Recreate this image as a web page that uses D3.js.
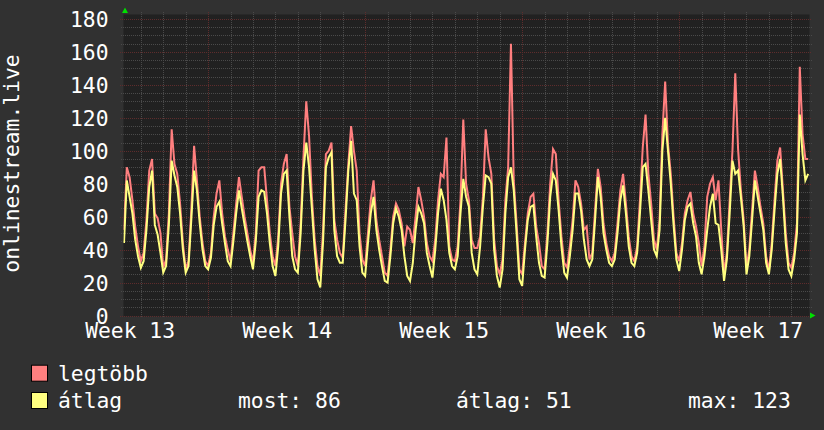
<!DOCTYPE html>
<html><head><meta charset="utf-8">
<script src="https://cdn.jsdelivr.net/npm/d3@7"></script>
<style>
html,body{margin:0;padding:0;background:#313131;}
svg{display:block;}
text{font-family:"DejaVu Sans Mono",monospace;fill:#ffffff;}
</style>
</head><body>
<svg id="chart" width="824" height="430"></svg>
<script>
// ---------- data ----------
const yTicks = [0, 20, 40, 60, 80, 100, 120, 140, 160, 180];
const yMinorTicks = [5,10,15,25,30,35,45,50,55,65,70,75,85,90,95,105,110,115,125,130,135,145,150,155,165,170,175];
const weekLabels = ["Week 13", "Week 14", "Week 15", "Week 16", "Week 17"];
const weekLabelDays = [-0.5, 6.5, 13.5, 20.5, 27.5];
const weekStartDays = [3, 10, 17, 24];
const dayLines = [0,1,2,4,5,6,7,8,9,11,12,13,14,15,16,18,19,20,21,22,23,25,26,27,28,29];
const startDay = -0.75;   // first sample (days from first midnight line)
const stepDay = 0.125;    // 3-hour samples

// legtöbb (max), 3-hour samples, one row per day
const legtobb = [
  52, 90, 84, 70, 54, 42,
  33, 38, 58, 88, 95, 62, 59, 50,
  29, 34, 62, 113, 92, 86, 68, 44,
  28, 33, 64, 103, 82, 60, 44, 33,
  30, 38, 60, 74, 82, 62, 48, 40,
  33, 50, 68, 84, 72, 60, 50, 40,
  32, 50, 88, 90, 90, 70, 50, 36,
  30, 48, 80, 92, 98, 66, 50, 36,
  30, 56, 96, 130, 109, 72, 46, 30,
  24, 52, 98, 100, 105, 58, 46, 38,
  35, 64, 92, 115, 100, 88, 50, 34,
  30, 50, 70, 82, 58, 46, 36, 26,
  24, 40, 60, 68, 64, 56, 42, 54,
  52, 44, 60, 78, 70, 60, 44, 36,
  33, 46, 70, 86, 84, 108, 42, 34,
  33, 42, 70, 119, 80, 70, 46, 41,
  41, 48, 72, 113, 96, 86, 46, 30,
  25, 34, 70, 90, 165, 82, 56, 28,
  25, 44, 62, 72, 74, 54, 44, 30,
  28, 50, 80, 101, 98, 70, 48, 32,
  29, 42, 58, 82, 78, 68, 52, 54,
  34, 38, 64, 89, 78, 56, 44, 36,
  33, 38, 56, 76, 86, 68, 48, 36,
  33, 42, 70, 102, 122, 86, 68, 46,
  40, 58, 110, 142, 104, 86, 60, 38,
  33, 44, 62, 70, 75, 62, 54, 44,
  30, 42, 72, 80, 84, 70, 82, 52,
  25, 38, 70, 100, 147, 101, 76, 58,
  29, 40, 64, 88, 78, 66, 56, 36,
  27, 44, 70, 94, 102, 76, 50, 32,
  29, 38, 56, 151, 110, 95, 95
];

// átlag (average)
const atlag = [
  44, 82, 72, 62, 46, 36,
  29, 33, 52, 78, 88, 55, 49, 38,
  26, 30, 55, 94, 85, 78, 62, 40,
  26, 30, 58, 88, 76, 56, 40, 30,
  28, 35, 55, 66, 69, 56, 44, 33,
  30, 45, 62, 76, 65, 55, 45, 36,
  28, 45, 72, 76, 75, 62, 44, 30,
  24, 42, 74, 86, 88, 60, 36, 28,
  26, 50, 88, 105, 90, 65, 40, 22,
  17, 45, 90, 96, 99, 52, 36, 32,
  32, 58, 88, 106, 74, 70, 42, 26,
  24, 44, 62, 72, 52, 40, 30, 21,
  20, 36, 56, 65, 60, 52, 36, 24,
  21, 32, 52, 66, 62, 56, 38, 30,
  23, 40, 62, 77, 70, 58, 38, 30,
  28, 36, 62, 83, 72, 66, 38, 28,
  25, 42, 66, 85, 84, 80, 40, 24,
  17, 28, 62, 84, 90, 76, 50, 22,
  18, 40, 58, 66, 67, 48, 32, 24,
  23, 44, 72, 86, 82, 64, 42, 26,
  23, 36, 52, 74, 74, 64, 46, 34,
  30, 34, 58, 84, 72, 50, 40, 32,
  30, 34, 50, 70, 79, 62, 42, 32,
  30, 38, 62, 90, 92, 76, 58, 40,
  36, 52, 100, 120, 100, 80, 55, 34,
  27, 40, 58, 66, 68, 56, 48, 32,
  25, 36, 52, 66, 74, 56, 55, 40,
  21, 34, 62, 94, 86, 88, 72, 54,
  25, 36, 58, 82, 72, 62, 52, 32,
  25, 40, 64, 86, 95, 72, 44, 28,
  24, 34, 50, 122, 98, 82, 86
];

const seriesNames = ["legtöbb", "átlag"];
const seriesColors = ["#ff7f7f", "#ffff80"];
const statLabels = ["most:", "átlag:", "max:"];
const statValues = [86, 51, 123];
const yTitle = "onlinestream.live";

// ---------- layout ----------
const svg = d3.select("#chart");
const plot = {left: 123.5, right: 809.5, top: 14.5, bottom: 316.5};
const x = d3.scaleLinear().domain([-0.75, 29.8]).range([124, 809.3]);
const y = d3.scaleLinear().domain([0, 180]).range([315.5, 19]);

svg.append("rect").attr("x",0).attr("y",0).attr("width",824).attr("height",430).attr("fill","#313131");
svg.append("rect").attr("x",plot.left).attr("y",plot.top)
  .attr("width",plot.right-plot.left).attr("height",plot.bottom-plot.top).attr("fill","#212121");

const grid = svg.append("g").attr("shape-rendering","crispEdges");
const minorCol = "#4a4a4a", majorCol = "#5e2c2c";
function hline(sel, vals, x1, col){
  sel.selectAll(null).data(vals).enter().append("line")
    .attr("x1",x1).attr("x2",812)
    .attr("y1",d=>Math.round(y(d))+0.5).attr("y2",d=>Math.round(y(d))+0.5)
    .attr("stroke",col).attr("stroke-width",1).attr("stroke-dasharray","1,1");
}
function vline(sel, vals, col){
  sel.selectAll(null).data(vals).enter().append("line")
    .attr("y1",12).attr("y2",318)
    .attr("x1",d=>Math.round(x(d))+0.5).attr("x2",d=>Math.round(x(d))+0.5)
    .attr("stroke",col).attr("stroke-width",1).attr("stroke-dasharray","1,1");
}
hline(grid, yMinorTicks, 121, minorCol);
vline(grid, dayLines, minorCol);
hline(grid, yTicks, 120, majorCol);
vline(grid, weekStartDays, majorCol);

// ---------- series ----------
const line = d3.line()
  .x((d,i)=>x(startDay + i*stepDay))
  .y(d=>y(d));
svg.append("clipPath").attr("id","pc").append("rect")
  .attr("x",plot.left).attr("y",plot.top).attr("width",plot.right-plot.left).attr("height",plot.bottom-plot.top);
[legtobb, atlag].forEach((s,k)=>{
  svg.append("path").datum(s).attr("d",line)
    .attr("fill","none").attr("stroke",seriesColors[k]).attr("stroke-width",2)
    .attr("stroke-linejoin","miter").attr("clip-path","url(#pc)");
});

// ---------- axes ----------
const fs = "21.33px";
const yAxis = d3.axisLeft(y).tickValues(yTicks).tickSize(0).tickPadding(0);
const yg = svg.append("g").attr("transform","translate(108.5,0)").call(yAxis);
yg.select(".domain").remove();
yg.selectAll("text").attr("font-size",fs).attr("dy",null).attr("y",7.5)
  .attr("font-family","DejaVu Sans Mono").attr("fill","#fff");

const xAxis = d3.axisBottom(x).tickValues(weekLabelDays)
  .tickFormat((d,i)=>weekLabels[i]).tickSize(0).tickPadding(0);
const xg = svg.append("g").attr("transform","translate(0,338.3)").call(xAxis);
xg.select(".domain").remove();
xg.selectAll("text").attr("font-size",fs).attr("dy",null).attr("y",0)
  .attr("font-family","DejaVu Sans Mono").attr("fill","#fff");

// arrows
svg.append("path").attr("d","M122,13 L128,13 L125,7.5 Z").attr("fill","#00e000");
svg.append("path").attr("d","M810,312.5 L810,318.5 L815.5,315.5 Z").attr("fill","#00e000");

// y title
svg.append("text").attr("transform","translate(18.5,163.5) rotate(-90)")
  .attr("text-anchor","middle").attr("font-size",fs).text(yTitle);

// ---------- legend ----------
const legY = [380.7, 408];
seriesNames.forEach((n,k)=>{
  svg.append("rect").attr("x",31.5).attr("y",legY[k]-15.5).attr("width",16).attr("height",16)
    .attr("fill",seriesColors[k]).attr("stroke","#000").attr("stroke-width",1);
  svg.append("text").attr("x",58).attr("y",legY[k]).attr("font-size",fs).text(n);
});
const statX = [238, 456, 688];
statLabels.forEach((l,k)=>{
  svg.append("text").attr("x",statX[k]).attr("y",legY[1]).attr("font-size",fs)
    .attr("xml:space","preserve").text(l + " " + statValues[k]);
});
</script>
</body></html>
